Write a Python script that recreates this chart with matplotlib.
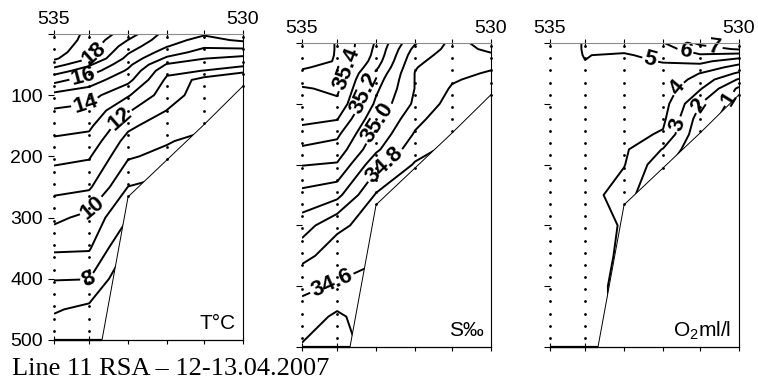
import matplotlib

matplotlib.use("Agg")
import matplotlib.pyplot as plt
import numpy as np

plt.rcParams.update({
    "font.family": ["Liberation Sans", "DejaVu Sans"],
    "mathtext.fontset": "custom",
    "mathtext.rm": "Liberation Sans",
    "mathtext.it": "Liberation Sans:italic",
})

# section geometry: stations 535 ... 530 (position along the line, arbitrary units)
STATION_X = [0.0, 0.93, 1.96, 2.99, 3.97, 5.0]
STATION_NAMES = ["535", "", "", "", "", "530"]
STATION_BOTTOM = [500, 500, 266, 206, 148, 85]
BOTTOM_X = [1.27, 1.96, 3.97, 5.0]
BOTTOM_D = [500, 266, 148, 85]
DEPTH = [0, 10, 20, 30, 40, 50, 60, 75, 100, 125, 150, 175, 200, 250, 300, 350, 400, 450, 500]
DEPTH_TICKS = [0, 100, 200, 300, 400, 500]
DEPTH_LABELS = ["", "100", "200", "300", "400", "500"]
SAMPLE_STEP = 20

# temperature, degC (rows = DEPTH, cols = stations 535..530)
TEMP = [
    [19.6, 18.8, 17.5, 15.6, 15.1, 15.4],
    [19.6, 18.7, 16.98, 15.35, 14.7, 15.15],
    [19.5, 18.55, 16.5, 15.05, 14.15, 14.35],
    [19.4, 18.35, 16.1, 14.5, 13.6, 13.4],
    [19.15, 18.02, 15.7, 13.8, 13.02, 12.75],
    [18.45, 17.15, 15.25, 12.9, 12.5, 12.35],
    [17.5, 16.5, 14.85, 12.25, 11.98, 11.05],
    [16.35, 15.5, 14.3, 11.8, 10.6, 10.8],
    [14.7, 14.4, 13.1, 11.45, 10.5, 10.6],
    [13.9, 13.7, 12.1, 10.98, 10.4, 10.4],
    [13.35, 13.2, 11.25, 10.3, 10.25, 10.2],
    [12.85, 12.65, 10.6, 10.1, 9.6, 9.8],
    [12.3, 12.1, 10.12, 9.7, 9.2, 9.4],
    [11.3, 11.15, 8.98, 8.6, 8.4, 8.5],
    [10.25, 9.7, 8.02, 7.8, 7.6, 7.7],
    [9.15, 9.1, 6.9, 7.02, 6.8, 6.9],
    [8.05, 8.02, 6.02, 6.3, 6.2, 6.3],
    [7.1, 6.75, 5.6, 5.8, 5.7, 5.8],
    [6.4, 6.2, 5.2, 5.4, 5.3, 5.4],
]
TEMP_LEVELS = [7, 8, 9, 10, 11, 12, 13, 14, 15, 16, 17, 18, 19]
TEMP_LABELS = [8, 10, 12, 14, 16, 18]

# salinity, psu
SALT = [
    [35.56, 35.495, 35.29, 35.01, 34.875, 34.93],
    [35.56, 35.495, 35.28, 34.97, 34.87, 34.915],
    [35.55, 35.495, 35.27, 34.94, 34.86, 34.89],
    [35.53, 35.495, 35.25, 34.92, 34.85, 34.85],
    [35.51, 35.47, 35.22, 34.905, 34.84, 34.81],
    [35.48, 35.45, 35.18, 34.897, 34.825, 34.79],
    [35.44, 35.44, 35.15, 34.897, 34.81, 34.77],
    [35.39, 35.42, 35.12, 34.897, 34.79, 34.74],
    [35.36, 35.38, 35.08, 34.88, 34.76, 34.71],
    [35.32, 35.305, 35.02, 34.83, 34.73, 34.68],
    [35.27, 35.22, 34.97, 34.79, 34.705, 34.66],
    [35.18, 35.16, 34.92, 34.74, 34.67, 34.64],
    [35.105, 35.09, 34.83, 34.69, 34.64, 34.62],
    [34.97, 34.93, 34.69, 34.62, 34.61, 34.61],
    [34.85, 34.72, 34.66, 34.58, 34.58, 34.58],
    [34.73, 34.65, 34.605, 34.56, 34.56, 34.56],
    [34.62, 34.59, 34.585, 34.55, 34.55, 34.55],
    [34.56, 34.48, 34.565, 34.54, 34.54, 34.54],
    [34.49, 34.45, 34.55, 34.53, 34.53, 34.53],
]
SALT_LEVELS = [34.5, 34.6, 34.7, 34.8, 34.9, 35.0, 35.1, 35.2, 35.3, 35.4, 35.5]
SALT_LABELS = [34.6, 34.8, 35.0, 35.2, 35.4]

# dissolved oxygen, ml/l
OXY = [
    [4.75, 5.03, 5.3, 5.95, 7.2, 7.8],
    [4.75, 5.03, 5.2, 5.6, 6.6, 7.1],
    [4.75, 5.02, 4.9, 5.3, 5.9, 5.6],
    [4.75, 4.995, 4.88, 5.03, 5.25, 4.45],
    [4.72, 4.9, 4.86, 4.9, 4.65, 3.6],
    [4.7, 4.85, 4.84, 4.8, 3.98, 2.85],
    [4.7, 4.8, 4.8, 4.7, 3.65, 1.9],
    [4.68, 4.75, 4.75, 4.55, 3.1, 0.8],
    [4.65, 4.7, 4.65, 4.4, 2.02, 0.5],
    [4.65, 4.65, 4.5, 4.2, 1.5, 0.4],
    [4.62, 4.6, 4.3, 3.9, 1.2, 0.4],
    [4.6, 4.55, 4.15, 2.95, 1.02, 0.4],
    [4.6, 4.5, 4.05, 2.3, 0.9, 0.4],
    [4.55, 4.45, 3.5, 1.8, 0.8, 0.4],
    [4.55, 4.4, 3.92, 1.6, 0.8, 0.4],
    [4.5, 4.4, 3.85, 1.5, 0.8, 0.4],
    [4.5, 4.35, 3.75, 1.5, 0.8, 0.4],
    [4.45, 4.3, 3.8, 1.5, 0.8, 0.4],
    [4.45, 4.3, 3.8, 1.5, 0.8, 0.4],
]
OXY_LEVELS = [1, 2, 3, 4, 5, 6, 7]
OXY_LABELS = [1, 2, 3, 4, 5, 6, 7]

W, H = 758, 380


def rect(left, top, right, bottom):
    return [left / W, 1 - bottom / H, (right - left) / W, (bottom - top) / H]


def draw_panel(ax, field, levels, label_levels, label_pos, fmt, name, show_depth):
    ax.set_xlim(0, 5)
    ax.set_ylim(500, 0)
    z = np.array(field)
    plain = [lv for lv in levels if lv not in label_levels]
    if plain:
        ax.contour(STATION_X, DEPTH, z, levels=plain, colors="black",
                   linewidths=1.4, zorder=2)
    cs = ax.contour(STATION_X, DEPTH, z, levels=label_levels, colors="black",
                    linewidths=1.4, zorder=2)
    with plt.rc_context({"font.weight": "bold"}):
        texts = ax.clabel(cs, manual=label_pos, inline=True, inline_spacing=2,
                          fmt=fmt, fontsize=16)
    for t in texts:
        t.set_clip_on(False)

    # sea floor: blank everything below it
    ax.fill(BOTTOM_X + [BOTTOM_X[-1]], BOTTOM_D + [500], color="white", lw=0, zorder=3)
    ax.plot(BOTTOM_X, BOTTOM_D, color="black", lw=0.7, zorder=4)
    ax.plot([STATION_X[0], BOTTOM_X[0]], [500, 500], color="black", lw=1.6,
            zorder=6, clip_on=False, solid_capstyle="butt")

    # sampling depths at each station
    for x, bot in zip(STATION_X, STATION_BOTTOM):
        d = np.arange(5, bot + 1, SAMPLE_STEP)
        ax.plot([x] * len(d), d, ls="none", marker="o", ms=2.0, mfc="black",
                mec="none", zorder=5, clip_on=False)

    ax.set_xticks(STATION_X)
    ax.set_xticklabels(STATION_NAMES)
    ax.tick_params(axis="x", bottom=True, top=True, labelbottom=False, labeltop=True,
                   direction="inout", length=6, width=0.8, labelsize=14, pad=1)
    ax.set_yticks(DEPTH_TICKS)
    ax.set_yticklabels(DEPTH_LABELS)
    ax.tick_params(axis="y", left=True, right=False, direction="out", length=4,
                   width=0.8, labelleft=show_depth, labelsize=14, pad=4)
    ax.spines["left"].set_visible(False)
    ax.spines["top"].set_color("#8c8c8c")
    ax.spines["top"].set_linewidth(0.8)
    ax.spines["right"].set_linewidth(0.8)
    ax.spines["bottom"].set_linewidth(0.9)
    for s in ax.spines.values():
        s.set_zorder(6)
    ax.text(0.96, 0.035, name, transform=ax.transAxes, ha="right", va="baseline",
            fontsize=15, zorder=7)


fig = plt.figure(figsize=(W / 100, H / 100), dpi=100)
ax1 = fig.add_axes(rect(54, 34, 243, 340))
ax2 = fig.add_axes(rect(302, 43, 491, 347))
ax3 = fig.add_axes(rect(550, 43, 739, 347))

draw_panel(ax1, TEMP, TEMP_LEVELS, TEMP_LABELS,
           [(1.08, 34), (0.78, 70), (0.82, 110), (1.75, 138), (0.92, 279), (0.91, 402)],
           "%d", "T°C", True)
draw_panel(ax2, SALT, SALT_LEVELS, SALT_LABELS,
           [(1.22, 44), (1.71, 83), (2.02, 132), (2.15, 198), (0.83, 401)],
           "%.1f", "S‰", False)
draw_panel(ax3, OXY, OXY_LEVELS, OXY_LABELS,
           [(4.75, 92), (3.92, 102), (3.35, 133), (3.39, 75), (2.65, 28), (3.57, 16), (4.35, 7)],
           "%d", "O$_2$ml/l", False)

fig.text(11.7 / W, 1 - 375 / H, "Line 11 RSA – 12-13.04.2007",
         family="Liberation Serif", fontsize=19, va="baseline")

fig.savefig("out.png", dpi=100)
